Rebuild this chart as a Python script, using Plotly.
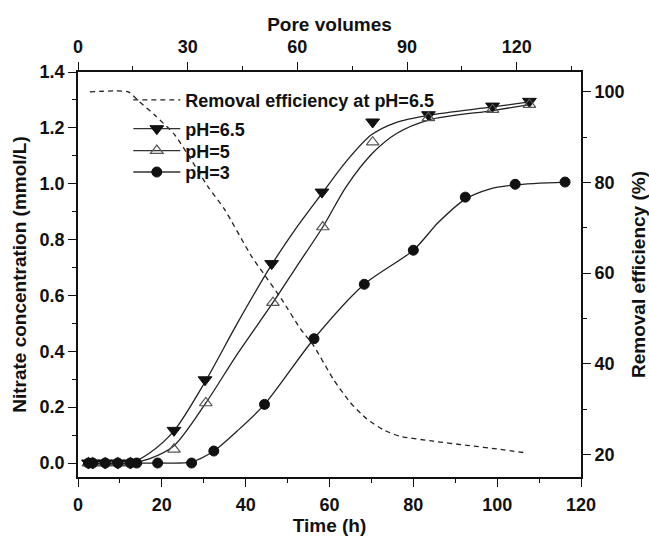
import plotly.graph_objects as go

# ---------------- data ----------------
# measured points: time (h) vs nitrate concentration (mmol/L)
t_ph65 = [2.5, 3.5, 6.5, 9.5, 12.5, 22.9, 30.3, 46.2, 58.2, 70.3, 83.6, 98.9, 107.7]
c_ph65 = [0.0, 0.0, 0.0, 0.0, 0.0, 0.117, 0.298, 0.714, 0.970, 1.221, 1.247, 1.278, 1.295]

t_ph5 = [2.5, 3.5, 6.5, 9.5, 12.5, 22.9, 30.5, 46.5, 58.4, 70.3, 83.6, 98.9, 107.7]
c_ph5 = [0.0, 0.0, 0.0, 0.0, 0.0, 0.049, 0.215, 0.574, 0.845, 1.149, 1.236, 1.265, 1.283]

t_ph3 = [2.5, 3.5, 6.5, 9.5, 12.5, 14.0, 19.0, 27.1, 32.4, 44.5, 56.3, 68.3, 80.0, 92.4, 104.3, 116.2]
c_ph3 = [0.0, 0.0, 0.0, 0.0, 0.0, 0.0, 0.0, 0.0, 0.043, 0.210, 0.445, 0.640, 0.762, 0.952, 0.998, 1.006]

# fitted curves as drawn in the reference
fit_t_ph65 = [2.5, 12.5, 17.0, 22.9, 30.3, 38.0, 46.2, 52.0, 58.2, 64.0, 70.0, 76.0, 83.6, 98.9, 107.7]
fit_c_ph65 = [0.0, 0.0, 0.035, 0.115, 0.29, 0.50, 0.71, 0.84, 0.965, 1.08, 1.175, 1.22, 1.245, 1.275, 1.293]

fit_t_ph5 = [2.5, 12.5, 17.0, 22.9, 30.5, 38.0, 46.5, 52.0, 58.4, 64.0, 70.3, 76.0, 83.6, 98.9, 107.7]
fit_c_ph5 = [0.0, 0.0, 0.015, 0.062, 0.215, 0.39, 0.574, 0.70, 0.845, 0.99, 1.11, 1.18, 1.228, 1.262, 1.283]

fit_t_ph3 = [2.5, 19.0, 27.1, 32.4, 38.0, 44.5, 56.3, 68.3, 80.0, 86.0, 92.4, 98.0, 104.3, 116.2]
fit_c_ph3 = [0.0, 0.0, 0.004, 0.043, 0.115, 0.210, 0.445, 0.640, 0.762, 0.862, 0.945, 0.980, 0.996, 1.006]

# removal efficiency at pH 6.5 (%), right axis
t_eff = [2.8, 12.0, 14.7, 18.3, 23.1, 27.0, 31.0, 35.0, 41.4, 44.2, 48.6, 53.0, 56.2,
         60.9, 64.9, 68.9, 72.9, 76.8, 84.8, 92.8, 100.7, 107.1]
r_eff = [100.0, 100.0, 97.8, 94.9, 90.5, 85.0, 79.1, 74.0, 63.7, 60.0, 54.2, 47.8, 44.0,
         36.6, 31.5, 27.8, 25.4, 24.0, 22.9, 22.0, 21.1, 20.3]

# axis ticks
x_ticks = [0, 20, 40, 60, 80, 100, 120]
pv_ticks = [0, 30, 60, 90, 120]
y_ticks = [0.0, 0.2, 0.4, 0.6, 0.8, 1.0, 1.2, 1.4]
r_ticks = [20, 40, 60, 80, 100]

# ---------------- figure ----------------
FONT = "Liberation Sans"
INK = "#111111"

fig = go.Figure()

# removal efficiency (dashed, right axis)
fig.add_trace(go.Scatter(
    x=t_eff, y=r_eff, yaxis="y2", mode="lines",
    line=dict(color="#222222", width=1.3, dash="5px,4px", shape="spline", smoothing=0.6),
    name="Removal efficiency at pH=6.5", legend="legend", showlegend=True))

# fitted lines
for ft, fc in [(fit_t_ph65, fit_c_ph65), (fit_t_ph5, fit_c_ph5), (fit_t_ph3, fit_c_ph3)]:
    fig.add_trace(go.Scatter(
        x=ft, y=fc, mode="lines",
        line=dict(color="#222222", width=1.3, shape="spline", smoothing=0.8),
        showlegend=False, hoverinfo="skip"))

styles = [
    ("pH=6.5", t_ph65, c_ph65, dict(symbol="triangle-down", size=12, color=INK,
                                     line=dict(color=INK, width=1)), "legend2"),
    ("pH=5", t_ph5, c_ph5, dict(symbol="triangle-up-open", size=11, color="#555555",
                                 line=dict(color="#555555", width=1.2)), "legend3"),
    ("pH=3", t_ph3, c_ph3, dict(symbol="circle", size=10, color=INK,
                                 line=dict(color=INK, width=1)), "legend4"),
]
for name, tx, cy, mk, lg in styles:
    fig.add_trace(go.Scatter(x=tx, y=cy, mode="markers", marker=mk,
                             showlegend=False, name=name))
for name, tx, cy, mk, lg in styles:
    fig.add_trace(go.Scatter(x=[None], y=[None], mode="lines+markers", marker=mk,
                             line=dict(color="#333333", width=1.3),
                             name=name, legend=lg, showlegend=True))

# invisible trace to activate the top axis
fig.add_trace(go.Scatter(x=[0, 137.6], y=[None, None], xaxis="x2", mode="lines",
                         showlegend=False, hoverinfo="skip"))

tickfont = dict(family=FONT, size=18, color=INK, weight="bold")
titlefont = dict(family=FONT, size=19, color=INK, weight="bold")
axis_common = dict(showline=True, linecolor=INK, linewidth=1.6, ticks="outside",
                   ticklen=8, tickwidth=1.4, tickcolor=INK, showgrid=False,
                   zeroline=False, tickfont=tickfont, automargin=False)
minor_common = dict(ticks="outside", ticklen=4, tickwidth=1.2, tickcolor=INK)

legend_font = dict(family=FONT, size=18, color=INK, weight="bold")


def leg(ypos):
    return dict(x=0.10, y=ypos, xanchor="left", yanchor="top",
                bgcolor="rgba(0,0,0,0)", borderwidth=0, font=legend_font, itemwidth=47)


fig.update_layout(
    width=649, height=536,
    margin=dict(l=78, r=68, t=72, b=59, autoexpand=False),
    paper_bgcolor="white", plot_bgcolor="white",
    xaxis=dict(range=[0, 120], tickvals=x_ticks, ticklabelstandoff=3,
               minor=dict(dtick=10, **minor_common),
               title=dict(text="Time (h)", font=titlefont, standoff=5),
               **axis_common),
    xaxis2=dict(range=[0, 137.6], tickvals=pv_ticks, overlaying="x", side="top",
                anchor="y", ticklabelstandoff=2,
                minor=dict(dtick=15, **minor_common),
                title=dict(text="Pore volumes", font=titlefont, standoff=0),
                **axis_common),
    yaxis=dict(range=[-0.05, 1.4], tickvals=y_ticks, tickformat=".1f",
               minor=dict(dtick=0.1, **minor_common),
               title=dict(text="Nitrate concentration (mmol/L)", font=titlefont, standoff=8),
               **axis_common),
    yaxis2=dict(range=[15, 104.4], tickvals=r_ticks, overlaying="y", side="right",
                anchor="x",
                minor=dict(dtick=10, **minor_common),
                title=dict(text="Removal efficiency (%)", font=titlefont, standoff=12),
                **axis_common),
    legend=leg(0.976),
    legend2=leg(0.905),
    legend3=leg(0.851),
    legend4=leg(0.798),
    showlegend=True,
)

fig.write_html("out.html")
